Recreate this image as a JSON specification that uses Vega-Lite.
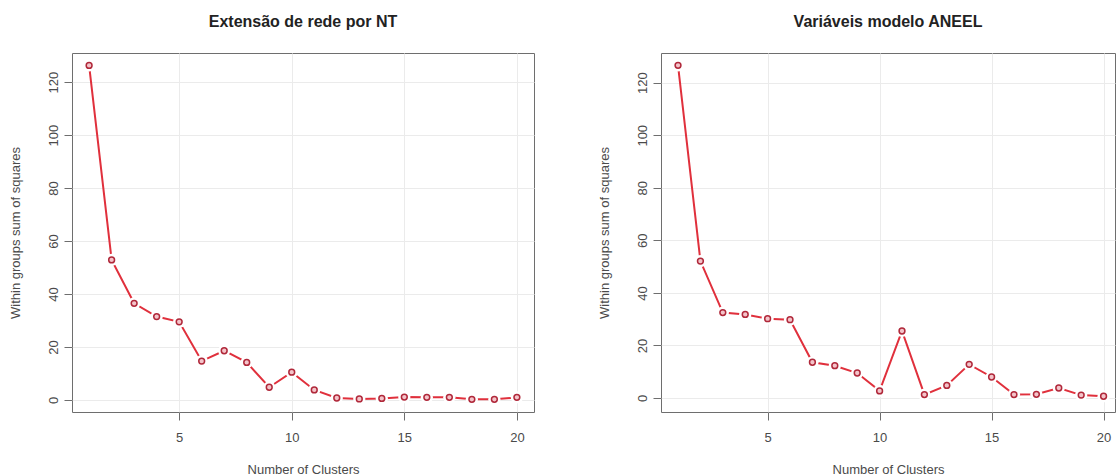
{
  "$schema": "https://vega.github.io/schema/vega-lite/v6.json",
  "background": "white",
  "padding": {"left": 8, "top": 13, "right": 0, "bottom": 0},
  "config": {
    "font": "Liberation Sans",
    "view": {"stroke": "#6e6e6e", "strokeWidth": 1},
    "axis": {
      "domain": false,
      "tickColor": "#6e6e6e",
      "tickSize": 8,
      "labelFont": "Liberation Sans",
      "labelFontSize": 13,
      "labelColor": "#4a4a4a",
      "titleFont": "Liberation Sans",
      "titleFontSize": 13,
      "titleFontWeight": "normal",
      "titleColor": "#4a4a4a",
      "gridColor": "#ebebeb",
      "labelFlush": false,
      "labelOverlap": false
    }
  },
  "datasets": {
    "nt": [
      {"k": 1, "wss": 126.3}, {"k": 2, "wss": 52.9}, {"k": 3, "wss": 36.5}, {"k": 4, "wss": 31.5},
      {"k": 5, "wss": 29.5}, {"k": 6, "wss": 14.7}, {"k": 7, "wss": 18.6}, {"k": 8, "wss": 14.2},
      {"k": 9, "wss": 4.8}, {"k": 10, "wss": 10.5}, {"k": 11, "wss": 3.8}, {"k": 12, "wss": 0.75},
      {"k": 13, "wss": 0.4}, {"k": 14, "wss": 0.6}, {"k": 15, "wss": 1.1}, {"k": 16, "wss": 1.0},
      {"k": 17, "wss": 1.0}, {"k": 18, "wss": 0.25}, {"k": 19, "wss": 0.25}, {"k": 20, "wss": 1.0}
    ],
    "aneel": [
      {"k": 1, "wss": 126.6}, {"k": 2, "wss": 52.1}, {"k": 3, "wss": 32.5}, {"k": 4, "wss": 31.8},
      {"k": 5, "wss": 30.2}, {"k": 6, "wss": 29.8}, {"k": 7, "wss": 13.6}, {"k": 8, "wss": 12.3},
      {"k": 9, "wss": 9.5}, {"k": 10, "wss": 2.7}, {"k": 11, "wss": 25.5}, {"k": 12, "wss": 1.3},
      {"k": 13, "wss": 4.8}, {"k": 14, "wss": 12.8}, {"k": 15, "wss": 8.0}, {"k": 16, "wss": 1.3},
      {"k": 17, "wss": 1.4}, {"k": 18, "wss": 3.8}, {"k": 19, "wss": 1.1}, {"k": 20, "wss": 0.65}
    ]
  },
  "spacing": 127,
  "bounds": "flush",
  "hconcat": [
    {
      "width": 462,
      "height": 359,
      "title": {"text": "Extensão de rede por NT", "font": "Liberation Sans", "fontSize": 16, "fontWeight": "bold", "color": "#222222", "anchor": "middle", "frame": "group", "baseline": "alphabetic", "offset": 10},
      "data": {"name": "nt"},
      "encoding": {
        "x": {"field": "k", "type": "quantitative",
          "scale": {"domain": [0.24, 20.76], "nice": false, "zero": false},
          "axis": {"values": [5, 10, 15, 20], "title": "Number of Clusters", "labelPadding": 11, "titleY": 61, "titleBaseline": "alphabetic"}},
        "y": {"field": "wss", "type": "quantitative",
          "scale": {"domain": [-4.53, 131], "nice": false, "zero": false},
          "axis": {"values": [0, 20, 40, 60, 80, 100, 120], "title": "Within groups sum of squares", "labelAngle": 270, "labelAlign": "center", "labelBaseline": "alphabetic", "labelPadding": 7, "titleX": -53, "titleY": 179.5, "titleAngle": 270, "titleBaseline": "alphabetic", "titleAlign": "center"}}
      },
      "layer": [
        {"mark": {"type": "line", "color": "#e0303c", "strokeWidth": 2}},
        {"mark": {"type": "circle", "color": "#ffffff", "opacity": 1, "size": 150}},
        {"mark": {"type": "point", "shape": "circle", "filled": true, "fill": "#f4c4ca", "stroke": "#b0283a", "strokeWidth": 1.5, "size": 34, "opacity": 1}}
      ]
    },
    {
      "width": 454,
      "height": 359,
      "title": {"text": "Variáveis modelo ANEEL", "font": "Liberation Sans", "fontSize": 16, "fontWeight": "bold", "color": "#222222", "anchor": "middle", "frame": "group", "baseline": "alphabetic", "offset": 10},
      "data": {"name": "aneel"},
      "encoding": {
        "x": {"field": "k", "type": "quantitative",
          "scale": {"domain": [0.24, 20.51], "nice": false, "zero": false},
          "axis": {"values": [5, 10, 15, 20], "title": "Number of Clusters", "labelPadding": 11, "titleY": 61, "titleBaseline": "alphabetic"}},
        "y": {"field": "wss", "type": "quantitative",
          "scale": {"domain": [-5.33, 131.3], "nice": false, "zero": false},
          "axis": {"values": [0, 20, 40, 60, 80, 100, 120], "title": "Within groups sum of squares", "labelAngle": 270, "labelAlign": "center", "labelBaseline": "alphabetic", "labelPadding": 7, "titleX": -53, "titleY": 179.5, "titleAngle": 270, "titleBaseline": "alphabetic", "titleAlign": "center"}}
      },
      "layer": [
        {"mark": {"type": "line", "color": "#e0303c", "strokeWidth": 2}},
        {"mark": {"type": "circle", "color": "#ffffff", "opacity": 1, "size": 150}},
        {"mark": {"type": "point", "shape": "circle", "filled": true, "fill": "#f4c4ca", "stroke": "#b0283a", "strokeWidth": 1.5, "size": 34, "opacity": 1}}
      ]
    }
  ]
}
